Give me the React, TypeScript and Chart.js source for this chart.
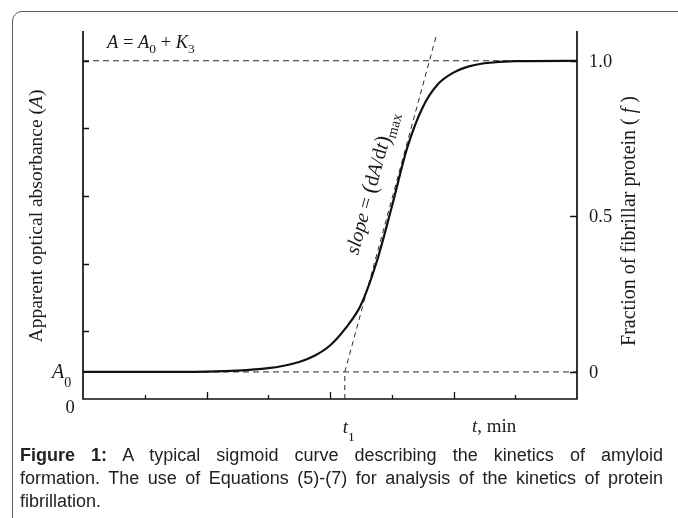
import React, { useEffect, useRef } from "react";
import { Chart, registerables } from "chart.js";

Chart.register(...registerables);

// ---- data ----
const timeValues = [0, 1, 2, 2.5, 3, 3.25, 3.5, 3.75, 4, 4.25, 4.5, 4.75, 5, 5.25, 5.5, 5.75, 6, 6.25, 6.5, 7, 8];
const fractionValues = [0, 0, 0.001, 0.004, 0.012, 0.02, 0.032, 0.052, 0.085, 0.14, 0.215, 0.35, 0.53, 0.72, 0.85, 0.925, 0.962, 0.982, 0.992, 0.999, 1.0];
const xMinorTicks = [1, 3, 5, 7];
const xMajorTicks = [2, 4, 6];
const leftTicks = [1, 2, 3, 4, 5];
const rightTicks = [0, 0.5, 1];
const rightTickLabels = ["0", "0.5", "1.0"];
const A0 = 0.4;
const K3 = 4.6;
const absorbanceMax = 5.44;
const timeMax = 8;
const t1 = 4.24;
const tangentTopX = 5.73;
const tangentTopF = 1.087;

const SERIF = '"Liberation Serif", "DejaVu Serif", serif';

type Seg = { t: string; font: string; dy?: number };

function drawRich(ctx: CanvasRenderingContext2D, segs: Seg[], x: number, y: number, align: "left" | "center") {
  let w = 0;
  segs.forEach((s) => {
    ctx.font = s.font;
    w += ctx.measureText(s.t).width;
  });
  let cx = align === "center" ? x - w / 2 : x;
  ctx.textAlign = "left";
  segs.forEach((s) => {
    ctx.font = s.font;
    ctx.fillText(s.t, cx, y + (s.dy || 0));
    cx += ctx.measureText(s.t).width;
  });
}

const f = (size: number, italic = false) => `${italic ? "italic " : ""}${size}px ${SERIF}`;

const decorPlugin = {
  id: "decor",
  afterDatasetsDraw(chart: any) {
    const ctx: CanvasRenderingContext2D = chart.ctx;
    const xs = chart.scales.x;
    const yA = chart.scales.yA;
    const yF = chart.scales.yF;
    const { left, right, top, bottom } = chart.chartArea;
    ctx.save();
    ctx.strokeStyle = "#111";
    ctx.fillStyle = "#1a1a1a";
    ctx.lineWidth = 1.7;
    // axes frame (left, bottom, right)
    ctx.beginPath();
    ctx.moveTo(left, top);
    ctx.lineTo(left, bottom);
    ctx.lineTo(right, bottom);
    ctx.lineTo(right, top);
    ctx.stroke();

    ctx.lineWidth = 1.3;
    ctx.beginPath();
    leftTicks.forEach((v) => {
      const y = Math.round(yA.getPixelForValue(v)) + 0.5;
      ctx.moveTo(left, y);
      ctx.lineTo(left + 6, y);
    });
    rightTicks.forEach((v) => {
      const y = Math.round(yF.getPixelForValue(v)) + 0.5;
      ctx.moveTo(right, y);
      ctx.lineTo(right - 7, y);
    });
    xMinorTicks.forEach((v) => {
      const x = Math.round(xs.getPixelForValue(v)) + 0.5;
      ctx.moveTo(x, bottom);
      ctx.lineTo(x, bottom - 4);
    });
    xMajorTicks.forEach((v) => {
      const x = Math.round(xs.getPixelForValue(v)) + 0.5;
      ctx.moveTo(x, bottom);
      ctx.lineTo(x, bottom - 7);
    });
    ctx.stroke();

    ctx.textBaseline = "alphabetic";
    // right tick labels
    rightTicks.forEach((v, i) => {
      ctx.font = f(18.5);
      ctx.textAlign = "left";
      ctx.fillText(rightTickLabels[i], right + 12, yF.getPixelForValue(v) + 6);
    });
    // left labels: 0 and A0
    drawRich(ctx, [{ t: "0", font: f(18.5) }], left - 13, yA.getPixelForValue(0) + 14, "center");
    const yA0 = yA.getPixelForValue(A0);
    drawRich(ctx, [
      { t: "A", font: f(20, true) },
      { t: "0", font: f(14), dy: 9 },
    ], left - 31, yA0 + 6, "left");

    // top annotation A = A0 + K3
    const yTop = yA.getPixelForValue(A0 + K3);
    drawRich(ctx, [
      { t: "A", font: f(18.5, true) },
      { t: " = ", font: f(18.5) },
      { t: "A", font: f(18.5, true) },
      { t: "0", font: f(13.5), dy: 5 },
      { t: " + ", font: f(18.5) },
      { t: "K", font: f(18.5, true) },
      { t: "3", font: f(13.5), dy: 5 },
    ], left + 24, yTop - 13, "left");

    // x labels
    const xT1 = xs.getPixelForValue(t1);
    drawRich(ctx, [
      { t: "t", font: f(19, true) },
      { t: "1", font: f(13.5), dy: 8 },
    ], xT1 - 2, bottom + 34, "left");
    drawRich(ctx, [
      { t: "t", font: f(19, true) },
      { t: ", min", font: f(19) },
    ], xs.getPixelForValue(6.3), bottom + 33, "left");

    // axis titles
    ctx.textBaseline = "middle";
    ctx.save();
    ctx.translate(37, 216);
    ctx.rotate(-Math.PI / 2);
    drawRich(ctx, [
      { t: "Apparent optical absorbance (", font: f(19.5) },
      { t: "A", font: f(19.5, true) },
      { t: ")", font: f(19.5) },
    ], 0, 0, "center");
    ctx.restore();

    ctx.save();
    ctx.translate(630, 221);
    ctx.rotate(-Math.PI / 2);
    drawRich(ctx, [
      { t: "Fraction of fibrillar protein ( ", font: f(20) },
      { t: "f", font: f(20, true) },
      { t: " )", font: f(20) },
    ], 0, 0, "center");
    ctx.restore();

    // slope label along tangent
    const p0x = xs.getPixelForValue(t1);
    const p0y = yF.getPixelForValue(0);
    const p1x = xs.getPixelForValue(tangentTopX);
    const p1y = yF.getPixelForValue(tangentTopF);
    const ang = Math.atan2(p1y - p0y, p1x - p0x);
    const len = Math.hypot(p1x - p0x, p1y - p0y);
    const ux = (p1x - p0x) / len;
    const uy = (p1y - p0y) / len;
    const s = 0.54;
    const cx = p0x + (p1x - p0x) * s + uy * 23;
    const cy = p0y + (p1y - p0y) * s - ux * 23;
    ctx.save();
    ctx.translate(cx, cy);
    ctx.rotate(ang);
    drawRich(ctx, [
      { t: "slope", font: f(20, true) },
      { t: " = ", font: f(20) },
      { t: "(", font: f(23) },
      { t: "d", font: f(20) },
      { t: "A", font: f(20, true) },
      { t: "/d", font: f(20) },
      { t: "t", font: f(20, true) },
      { t: ")", font: f(23) },
      { t: "max", font: f(14.5), dy: 7 },
    ], 0, 0, "center");
    ctx.restore();

    ctx.restore();
  },
};

export default function App() {
  const ref = useRef<HTMLCanvasElement>(null);

  useEffect(() => {
    const canvas = ref.current;
    if (!canvas) return;
    const fMin = -A0 / K3;
    const fMax = (absorbanceMax - A0) / K3;
    const curve = timeValues.map((x, i) => ({ x, y: fractionValues[i] }));
    const dashColor = "#2a2a2a";
    const chart = new Chart(canvas, {
      type: "scatter",
      data: {
        datasets: [
          {
            data: curve,
            showLine: true,
            borderColor: "#111",
            borderWidth: 2.2,
            pointRadius: 0,
            cubicInterpolationMode: "monotone",
            yAxisID: "yF",
          },
          {
            data: [
              { x: t1, y: fMin },
              { x: t1, y: 0 },
              { x: tangentTopX, y: tangentTopF },
            ],
            showLine: true,
            borderColor: dashColor,
            borderWidth: 1,
            borderDash: [5, 4],
            pointRadius: 0,
            yAxisID: "yF",
          },
          {
            data: [
              { x: 0, y: 1 },
              { x: timeMax, y: 1 },
            ],
            showLine: true,
            borderColor: dashColor,
            borderWidth: 1,
            borderDash: [6, 4],
            pointRadius: 0,
            yAxisID: "yF",
          },
          {
            data: [
              { x: 0, y: 0 },
              { x: timeMax, y: 0 },
            ],
            showLine: true,
            borderColor: dashColor,
            borderWidth: 1,
            borderDash: [6, 4],
            pointRadius: 0,
            yAxisID: "yF",
          },
        ],
      } as any,
      options: {
        responsive: false,
        maintainAspectRatio: false,
        animation: false,
        devicePixelRatio: 1,
        layout: { padding: { left: 83, right: 101, top: 31, bottom: 119 } },
        plugins: { legend: { display: false }, tooltip: { enabled: false } },
        events: [],
        scales: {
          x: { type: "linear", min: 0, max: timeMax, display: false },
          yF: { type: "linear", position: "right", min: fMin, max: fMax, display: false },
          yA: { type: "linear", position: "left", min: 0, max: absorbanceMax, display: false },
        },
      } as any,
      plugins: [decorPlugin],
    });
    return () => chart.destroy();
  }, []);

  return (
    <div
      style={{
        position: "fixed",
        left: 0,
        top: 0,
        width: 678,
        height: 518,
        overflow: "hidden",
        background: "#fff",
      }}
    >
      <canvas
        ref={ref}
        width={678}
        height={518}
        style={{ position: "absolute", left: 0, top: 0, width: 678, height: 518 }}
      />
      <div
        style={{
          position: "absolute",
          left: 12,
          top: 11,
          width: 720,
          height: 600,
          border: "1.5px solid #5c5c5c",
          borderRadius: 10,
          boxSizing: "border-box",
        }}
      />
      <div
        style={{
          position: "absolute",
          left: 20,
          top: 444,
          width: 643,
          fontFamily: '"Liberation Sans", Arial, sans-serif',
          fontSize: 18,
          lineHeight: "23px",
          color: "#222",
        }}
      >
        <div style={{ textAlign: "justify", textAlignLast: "justify" }}>
          <b>Figure 1:</b> A typical sigmoid curve describing the kinetics of amyloid
        </div>
        <div style={{ textAlign: "justify", textAlignLast: "justify" }}>
          formation. The use of Equations (5)-(7) for analysis of the kinetics of protein
        </div>
        <div>fibrillation.</div>
      </div>
    </div>
  );
}
